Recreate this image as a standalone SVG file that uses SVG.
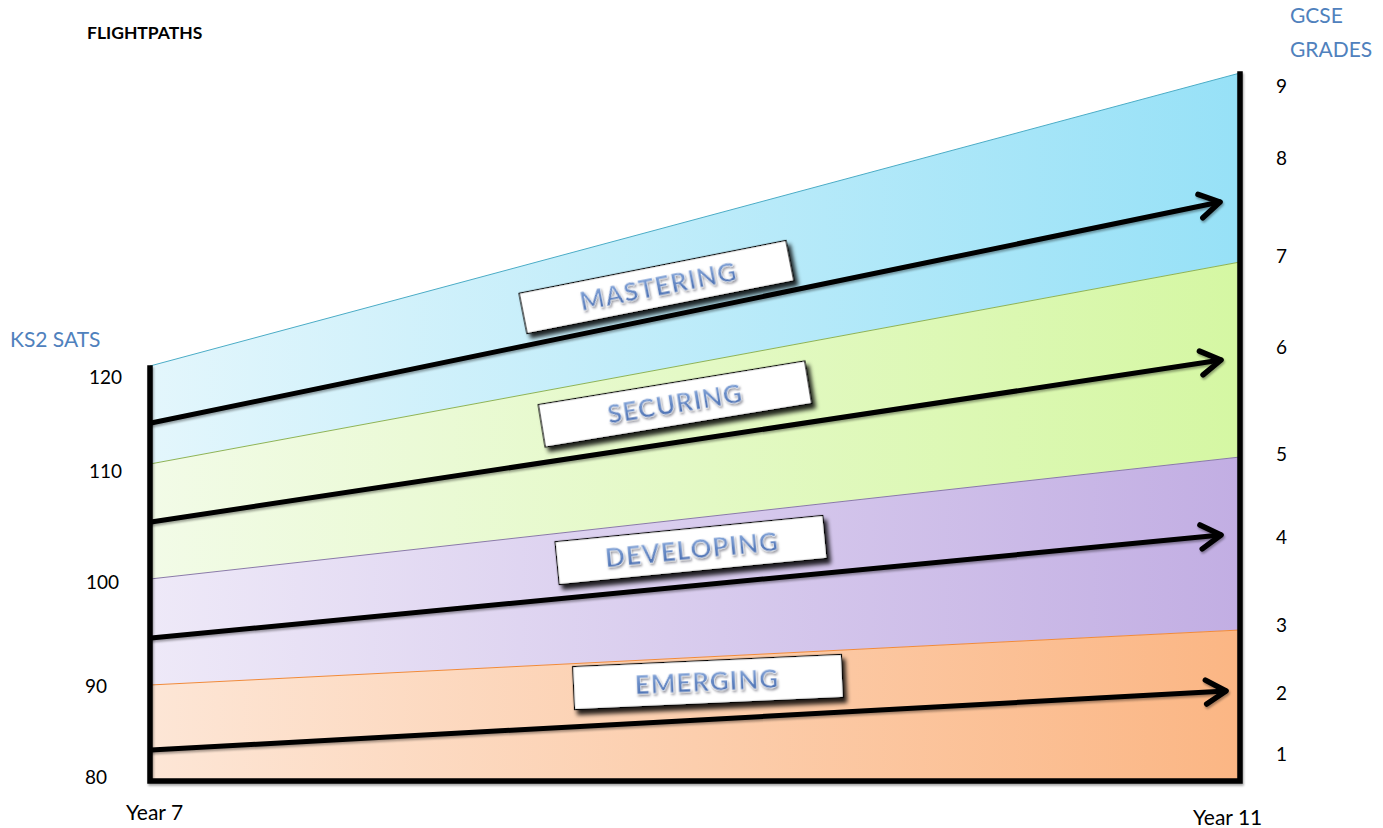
<svg xmlns="http://www.w3.org/2000/svg" width="1383" height="828" viewBox="0 0 1383 828">
<defs>
<linearGradient id="gBlue" gradientUnits="userSpaceOnUse" x1="150" y1="0" x2="1240" y2="0"><stop offset="0" stop-color="#e3f6fc"/><stop offset="1" stop-color="#97e1f7"/></linearGradient>
<linearGradient id="gGreen" gradientUnits="userSpaceOnUse" x1="150" y1="0" x2="1240" y2="0"><stop offset="0" stop-color="#f2fbe7"/><stop offset="1" stop-color="#d5f7a3"/></linearGradient>
<linearGradient id="gPurple" gradientUnits="userSpaceOnUse" x1="150" y1="0" x2="1240" y2="0"><stop offset="0" stop-color="#eee9f8"/><stop offset="1" stop-color="#c2aee3"/></linearGradient>
<linearGradient id="gOrange" gradientUnits="userSpaceOnUse" x1="150" y1="0" x2="1240" y2="0"><stop offset="0" stop-color="#fde6d6"/><stop offset="1" stop-color="#fbb684"/></linearGradient>
<linearGradient id="gText" x1="0" y1="0" x2="0" y2="1"><stop offset="0" stop-color="#93b3e3"/><stop offset="1" stop-color="#3b62a8"/></linearGradient>
<filter id="boxShadow" x="-10%" y="-30%" width="130%" height="180%"><feDropShadow dx="3" dy="5" stdDeviation="2" flood-color="#000" flood-opacity="0.85"/></filter>
<filter id="textShadow" x="-10%" y="-30%" width="130%" height="180%"><feDropShadow dx="1" dy="2" stdDeviation="1" flood-color="#556" flood-opacity="0.6"/></filter>
<filter id="lineShadow" x="-5%" y="-5%" width="110%" height="110%"><feDropShadow dx="1" dy="2" stdDeviation="1.2" flood-color="#000" flood-opacity="0.35"/></filter>
<marker id="chev" markerUnits="userSpaceOnUse" viewBox="-26 -16 30 32" markerWidth="30" markerHeight="32" refX="0" refY="0" orient="auto"><path d="M-20,-12 L0,0 L-20,12" fill="none" stroke="#000" stroke-width="5.5" stroke-linecap="round" stroke-linejoin="round"/></marker>
</defs>
<style>
.lbl{font-family:Lato,"Open Sans","Liberation Sans",sans-serif;fill:#000;font-size:19px}
.yr{font-family:Lato,"Open Sans","Liberation Sans",sans-serif;fill:#000;font-size:21px}
.blu{font-family:Lato,"Open Sans","Liberation Sans",sans-serif;fill:#4f81bd;font-size:21px}
.box{fill:#fff;stroke:#000;stroke-width:1.2}
.bt{font-family:Lato,"Open Sans","Liberation Sans",sans-serif;font-size:26px;font-weight:bold;fill:url(#gText);stroke:#fff;stroke-width:0.5;letter-spacing:1px}
.arr{fill:none;stroke:#000;stroke-width:5;stroke-linecap:round;marker-end:url(#chev)}
.axis{fill:none;stroke:#000;stroke-width:5.5;stroke-linecap:square}
</style>
<rect width="1383" height="828" fill="#fff"/>

<g id="bands">
<polygon points="150,366 1240,73 1240,262 150,464" fill="url(#gBlue)"/>
<polygon points="150,464 1240,262 1240,457 150,579" fill="url(#gGreen)"/>
<polygon points="150,579 1240,457 1240,630 150,685" fill="url(#gPurple)"/>
<polygon points="150,685 1240,630 1240,781 150,781" fill="url(#gOrange)"/>
<line x1="150" y1="366" x2="1240" y2="73" stroke="#4bacc6" stroke-width="1"/>
<line x1="150" y1="464" x2="1240" y2="262" stroke="#8db356" stroke-width="1"/>
<line x1="150" y1="579" x2="1240" y2="457" stroke="#8a7aa8" stroke-width="1"/>
<line x1="150" y1="685" x2="1240" y2="630" stroke="#f08a3a" stroke-width="1"/>
</g>

<g id="axes" filter="url(#lineShadow)">
<polyline class="axis" points="150,368 150,781 1240,781 1240,74"/>
</g>

<g id="connectors" filter="url(#lineShadow)">
<line class="arr" x1="151" y1="423" x2="1220" y2="202"/>
<line class="arr" x1="151" y1="522" x2="1221" y2="360"/>
<line class="arr" x1="151" y1="638" x2="1221" y2="535"/>
<line class="arr" x1="151" y1="750" x2="1226" y2="691"/>
</g>

<g id="mastering" transform="translate(656.5,287) rotate(-11.2)">
<rect class="box" x="-136" y="-20.5" width="272" height="41" filter="url(#boxShadow)"/>
<text class="bt" x="2" y="9" text-anchor="middle" filter="url(#textShadow)">MASTERING</text>
</g>
<g id="securing" transform="translate(675,404) rotate(-9.3)">
<rect class="box" x="-135" y="-21.5" width="270" height="43" filter="url(#boxShadow)"/>
<text class="bt" x="0" y="9" text-anchor="middle" filter="url(#textShadow)">SECURING</text>
</g>
<g id="developing" transform="translate(691,550) rotate(-5.6)">
<rect class="box" x="-134.5" y="-21.5" width="269" height="43" filter="url(#boxShadow)"/>
<text class="bt" x="1" y="9" text-anchor="middle" filter="url(#textShadow)">DEVELOPING</text>
</g>
<g id="emerging" transform="translate(708,682) rotate(-2.6)">
<rect class="box" x="-134.5" y="-21.5" width="269" height="43" filter="url(#boxShadow)"/>
<text class="bt" x="-1" y="9" text-anchor="middle" filter="url(#textShadow)">EMERGING</text>
</g>

<g id="titles">
<text x="87" y="39" font-family="Lato,'Open Sans','Liberation Sans',sans-serif" font-size="17.5" font-weight="bold" fill="#000">FLIGHTPATHS</text>
<text class="blu" x="1290" y="23">GCSE</text>
<text class="blu" x="1290" y="57">GRADES</text>
<text class="blu" x="10" y="347">KS2 SATS</text>
</g>

<g id="left-scale">
<text class="lbl" x="122" y="384" text-anchor="end">120</text>
<text class="lbl" x="122" y="478" text-anchor="end">110</text>
<text class="lbl" x="119" y="589" text-anchor="end">100</text>
<text class="lbl" x="107" y="693" text-anchor="end">90</text>
<text class="lbl" x="107" y="784" text-anchor="end">80</text>
</g>

<g id="right-scale">
<text class="lbl" x="1276" y="93">9</text>
<text class="lbl" x="1276" y="165">8</text>
<text class="lbl" x="1276" y="263">7</text>
<text class="lbl" x="1276" y="354">6</text>
<text class="lbl" x="1276" y="461">5</text>
<text class="lbl" x="1276" y="544">4</text>
<text class="lbl" x="1276" y="632">3</text>
<text class="lbl" x="1276" y="700">2</text>
<text class="lbl" x="1276" y="761">1</text>
</g>

<g id="years">
<text class="yr" x="126" y="820">Year 7</text>
<text class="yr" x="1193" y="825">Year 11</text>
</g>
</svg>
